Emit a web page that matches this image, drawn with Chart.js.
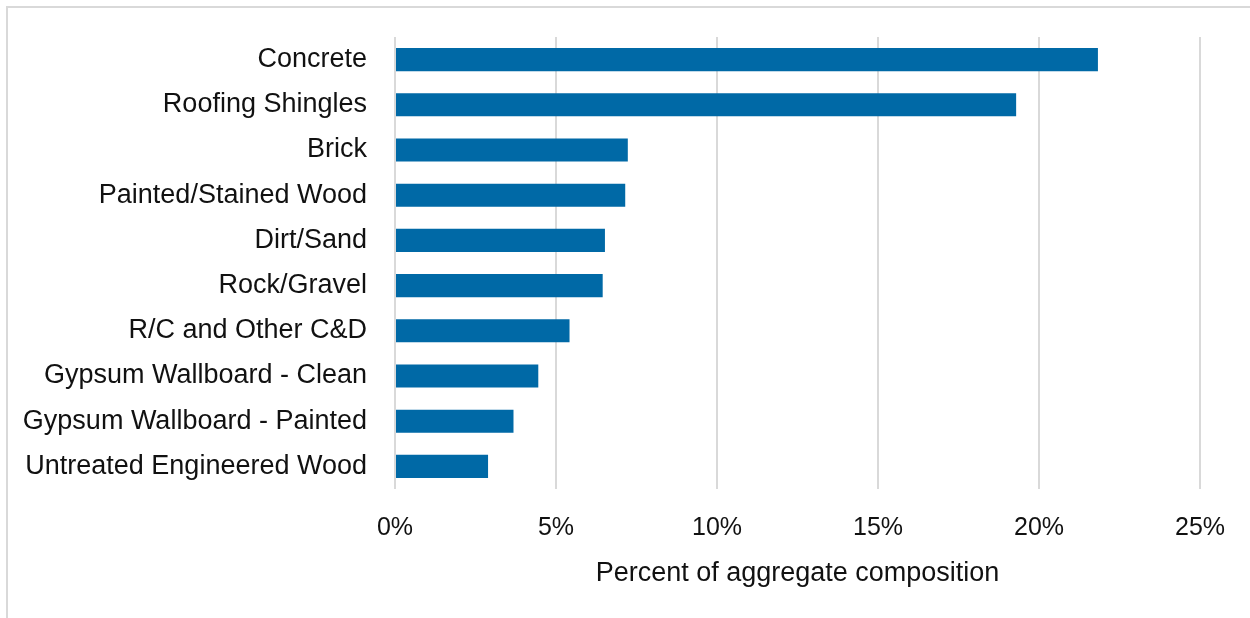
<!DOCTYPE html>
<html>
<head>
<meta charset="utf-8">
<script src="https://cdn.jsdelivr.net/npm/chart.js@4"></script>
<style>
  html, body { margin: 0; padding: 0; background: #fff; overflow: hidden; }
  #wrap { position: relative; width: 1250px; height: 618px; }
  #frame { position: absolute; left: 6px; top: 6px; width: 1260px; height: 630px;
           border-top: 2px solid #d9d9d9; border-left: 2px solid #d9d9d9; }
  canvas { position: absolute; left: 0; top: 0; }
</style>
</head>
<body>
<div id="wrap">
  <div id="frame"></div>
  <canvas id="chart1" width="1250" height="618"></canvas>
</div>
<script>
// materiales
const categories = [
    'Concrete',
    'Roofing Shingles',
    'Brick',
    'Painted/Stained Wood',
    'Dirt/Sand',
    'Rock/Gravel',
    'R/C and Other C&D',
    'Gypsum Wallboard - Clean',
    'Gypsum Wallboard - Painted',
    'Untreated Engineered Wood'
];
const shares = [21.83, 19.29, 7.23, 7.15, 6.52, 6.45, 5.42, 4.45, 3.68, 2.89];
const xTicks = [0, 5, 10, 15, 20, 25];
const xTitle = 'Percent of aggregate composition';

const fontFam = "'Liberation Sans', Arial, sans-serif";

const ctx1 = document.getElementById('chart1').getContext('2d');
new Chart(ctx1, {
    type: 'bar',
    data: {
        labels: categories,
        datasets: [{
            label: xTitle,
            data: shares,
            backgroundColor: '#0069a6',
            borderWidth: 0,
            barPercentage: 0.51,
            categoryPercentage: 1
        }]
    },
    options: {
        indexAxis: 'y',
        responsive: false,
        animation: false,
        layout: { padding: { left: 0, right: 50, top: 37, bottom: 0 } },
        plugins: {
            legend: { display: false },
            tooltip: { enabled: false }
        },
        scales: {
            x: {
                min: xTicks[0],
                max: xTicks[xTicks.length - 1],
                afterBuildTicks: (scale) => { scale.ticks = xTicks.map(v => ({ value: v })); },
                ticks: {
                    callback: (v) => v + '%',
                    color: '#111',
                    font: { family: fontFam, size: 25 },
                    padding: 24
                },
                grid: { color: '#d9d9d9', lineWidth: 2, drawTicks: false },
                border: { display: false },
                title: {
                    display: true,
                    text: xTitle,
                    color: '#111',
                    font: { family: fontFam, size: 27 },
                    padding: { top: 6, bottom: 28 }
                },
                afterFit: (scale) => { scale.height = 618 - 489; }
            },
            y: {
                // hueco entre etiquetas y eje vía tickLength (no infla el padding superior)
                grid: { display: false, drawTicks: true, tickLength: 28 },
                border: { display: false },
                ticks: {
                    color: '#111',
                    font: { family: fontFam, size: 27 },
                    padding: 0
                },
                afterFit: (scale) => { scale.width = 395; }
            }
        }
    }
});
</script>
</body>
</html>
